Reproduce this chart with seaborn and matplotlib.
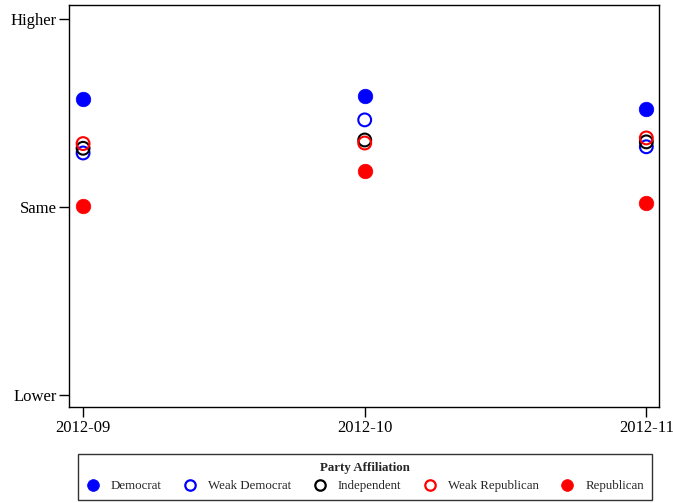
import matplotlib
matplotlib.use("Agg")
import matplotlib.pyplot as plt
import seaborn as sns
import pandas as pd
from matplotlib.lines import Line2D

sns.set_theme(style="white")
plt.rcParams['font.family'] = ['Liberation Serif', 'DejaVu Serif']

months = ["2012-09", "2012-10", "2012-11"]
series = ["Democrat", "Weak Democrat", "Independent", "Weak Republican", "Republican"]
democrat = [0.574, 0.590, 0.521]
weak_democrat = [0.287, 0.463, 0.320]
independent = [0.312, 0.356, 0.346]
weak_republican = [0.337, 0.340, 0.367]
republican = [0.003, 0.191, 0.021]
y_ticks = [-1, 0, 1]
y_labels = ["Lower", "Same", "Higher"]

values = [democrat, weak_democrat, independent, weak_republican, republican]
colors = ["#0000FF", "#0000FF", "#000000", "#FF0000", "#FF0000"]
filled = [True, False, False, False, True]

fig = plt.figure(figsize=(6.73, 5.03), dpi=100)
ax = fig.add_axes([69/673, 1 - 407/503, 590/673, 402/503])

for name, vals, c, f in zip(series, values, colors, filled):
    df = pd.DataFrame({"x": list(range(len(months))), "y": vals})
    if f:
        sns.scatterplot(data=df, x="x", y="y", ax=ax, s=110, color=c,
                        edgecolor=c, linewidth=0.5, zorder=3)
    else:
        sns.scatterplot(data=df, x="x", y="y", ax=ax, s=85, facecolor="none",
                        edgecolor=c, linewidth=1.5, zorder=3)

ax.set_xlim(-0.05, 2.045)
ax.set_ylim(-1.064, 1.074)
ax.set_xticks(range(len(months)))
ax.set_xticklabels(months, fontsize=12)
ax.set_yticks(y_ticks)
ax.set_yticklabels(y_labels, fontsize=12)
ax.set_xlabel("")
ax.set_ylabel("")
for sp in ax.spines.values():
    sp.set_visible(True)
    sp.set_color("black")
    sp.set_linewidth(1.0)
ax.tick_params(axis="both", which="both", direction="out", length=7, width=1,
               color="black", left=True, bottom=True, labelcolor="black", pad=2)

handles = []
for name, c, f in zip(series, colors, filled):
    handles.append(Line2D([], [], linestyle="none", marker="o",
                          markersize=8.5 if f else 7.5,
                          markerfacecolor=c if f else "none", markeredgecolor=c,
                          markeredgewidth=0.5 if f else 1.6, label=name))
leg = fig.legend(handles=handles, loc="center", bbox_to_anchor=(365/673, 1 - 477/503),
                 ncol=5, frameon=True, fancybox=False, fontsize=9.3,
                 title="Party Affiliation", title_fontproperties={"weight": "bold", "size": 9.3},
                 handlelength=1.0, handletextpad=0.9, columnspacing=1.7,
                 borderpad=0.6, labelspacing=0.5, edgecolor="black")
leg.get_frame().set_linewidth(1.0)

fig.savefig("out.png", dpi=100)
